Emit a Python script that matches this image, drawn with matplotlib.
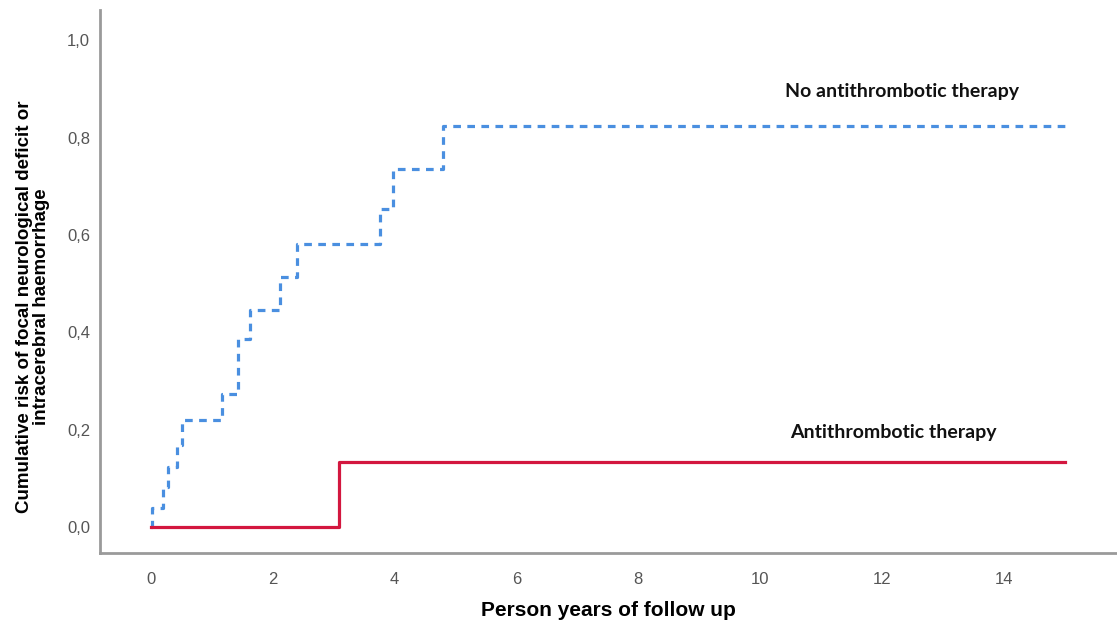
import numpy as np
import matplotlib
matplotlib.use("Agg")
import matplotlib.pyplot as plt
from matplotlib.ticker import FuncFormatter

# Kaplan-Meier style step data
no_at_x = [0.0, 0.02, 0.20, 0.28, 0.42, 0.51, 1.16, 1.43, 1.62, 2.12, 2.40, 3.75, 3.97, 4.80, 15.0]
no_at_y = [0.0, 0.04, 0.083, 0.124, 0.168, 0.22, 0.274, 0.387, 0.445, 0.514, 0.582, 0.654, 0.736, 0.823, 0.823]

at_x = [0.0, 3.08, 15.0]
at_y = [0.0, 0.133, 0.133]

x_ticks = [0, 2, 4, 6, 8, 10, 12, 14]
y_ticks = [0.0, 0.2, 0.4, 0.6, 0.8, 1.0]

blue = '#4a8fe0'
red = '#d3173f'
spine_col = '#9a9a9a'
sans = 'Liberation Sans'

fig = plt.figure(figsize=(11.17, 6.26), dpi=100)
ax = fig.add_axes([0.0895, 0.1166, 0.9105, 0.8674])

ax.step(no_at_x, no_at_y, where='post', color=blue, linewidth=2.3,
        dashes=(2.4, 2.0))
ax.step(at_x, at_y, where='post', color=red, linewidth=2.3)

ax.set_xlim(-0.84, 15.86)
ax.set_ylim(-0.053, 1.062)

ax.set_xticks(x_ticks)
ax.set_yticks(y_ticks)
ax.yaxis.set_major_formatter(FuncFormatter(lambda v, p: f'{v:.1f}'.replace('.', ',')))
ax.tick_params(axis='y', length=0, labelsize=12, labelcolor='#555555', pad=7)
ax.tick_params(axis='x', length=0, labelsize=12, labelcolor='#555555', pad=14)
for lab in ax.get_xticklabels() + ax.get_yticklabels():
    lab.set_family(sans)

for s in ['top', 'right']:
    ax.spines[s].set_visible(False)
for s in ['left', 'bottom']:
    ax.spines[s].set_color(spine_col)
    ax.spines[s].set_linewidth(2)

fig.text(608 / 1117, 1 - 610 / 626, 'Person years of follow up', ha='center', va='center',
         fontsize=15, fontweight='bold', family=sans)
fig.text(33 / 1117, 1 - 307 / 626,
         'Cumulative risk of focal neurological deficit or\nintracerebral haemorrhage',
         ha='center', va='center', rotation=90, fontsize=13.5, fontweight='bold',
         family=sans, linespacing=1.0)

ax.text(12.33, 0.895, 'No antithrombotic therapy', ha='center', va='center',
        fontsize=14, fontweight='bold', family='Lato', color='#111111')
ax.text(12.18, 0.195, 'Antithrombotic therapy', ha='center', va='center',
        fontsize=14, fontweight='bold', family='Lato', color='#111111')

fig.savefig('out.png', dpi=100)
